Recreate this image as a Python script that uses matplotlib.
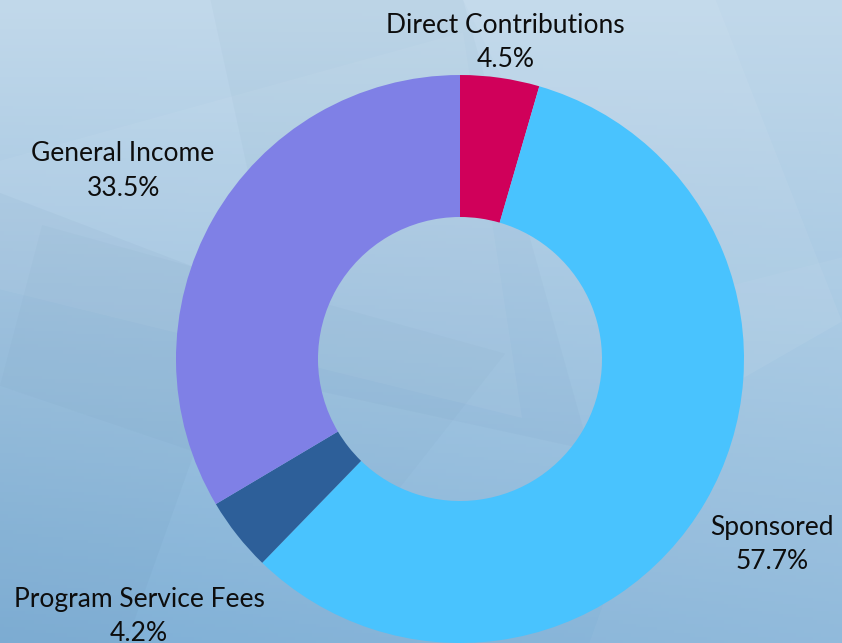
import numpy as np
import matplotlib
matplotlib.use("Agg")
import matplotlib.pyplot as plt
from matplotlib.patches import Polygon

# ---- data ----
categories = ["Direct Contributions", "Sponsored", "Program Service Fees", "General Income"]
values = [4.5, 57.7, 4.2, 33.5]
colors = ["#D0005A", "#49C3FE", "#2D5F99", "#7F80E6"]
label_dist = [1.14, 1.27, 1.44, 1.365]

W, H = 842, 643
CX, CY, R = 460, 359, 284

plt.rcParams['font.family'] = ['Lato', 'DejaVu Sans']
fig = plt.figure(figsize=(W / 100, H / 100), dpi=100)

# background gradient
bg = fig.add_axes([0, 0, 1, 1])
bg.set_axis_off()
yy, xx = np.mgrid[0:1:200j, 0:1:200j]
top = np.array([0.76, 0.85, 0.92])
bot = np.array([0.50, 0.69, 0.84])
t = np.clip(0.8 * yy + 0.2 * (1 - xx) * yy, 0, 1)[..., None]
img = top * (1 - t) + bot * t
bg.imshow(img, extent=[0, 1, 0, 1], origin="upper", aspect="auto")
bg.set_xlim(0, 1)
bg.set_ylim(0, 1)
shapes = [
    [(0.0, 0.75), (0.55, 0.95), (0.62, 0.35), (0.0, 0.55)],
    [(0.25, 1.0), (0.55, 1.0), (0.70, 0.30), (0.35, 0.40)],
    [(0.55, 1.0), (0.85, 1.0), (1.0, 0.50), (0.80, 0.35)],
    [(0.0, 0.0), (0.15, 0.0), (0.30, 0.55), (0.0, 0.70)],
    [(0.70, 0.0), (1.0, 0.0), (1.0, 0.60), (0.85, 0.55)],
    [(0.0, 0.40), (0.45, 0.20), (0.60, 0.45), (0.05, 0.65)],
]
shade = [(1, 1, 1, 0.05), (0.3, 0.45, 0.6, 0.04), (1, 1, 1, 0.06),
         (0.3, 0.45, 0.6, 0.05), (1, 1, 1, 0.04), (0.3, 0.45, 0.6, 0.035)]
for pts, c in zip(shapes, shade):
    bg.add_patch(Polygon(pts, closed=True, facecolor=c, edgecolor="none"))

# donut
ax = fig.add_axes([0, 0, 1, 1])
ax.set_axis_off()
ax.patch.set_alpha(0)
wedges, _ = ax.pie(values, colors=colors, startangle=90, counterclock=False,
                   radius=1.0, wedgeprops=dict(width=0.5, edgecolor="none"))
ax.set_xlim(-CX / R, (W - CX) / R)
ax.set_ylim(-(H - CY) / R, CY / R)
ax.set_aspect("equal")

for w, cat, v, d in zip(wedges, categories, values, label_dist):
    ang = np.deg2rad((w.theta1 + w.theta2) / 2)
    x, y = d * np.cos(ang), d * np.sin(ang) - 4 / R
    ax.text(x, y, f"{cat}\n{v:.1f}%", ha="center", va="center",
            fontsize=19, color="#0d0d0d", linespacing=1.48)

fig.savefig("out.png", dpi=100)
